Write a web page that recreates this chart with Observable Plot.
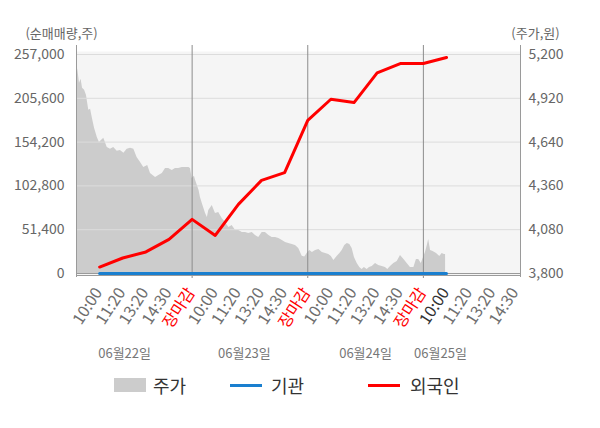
<!DOCTYPE html>
<html><head><meta charset="utf-8">
<script src="https://cdn.jsdelivr.net/npm/d3@7"></script>
<script src="https://cdn.jsdelivr.net/npm/@observablehq/plot@0.6"></script>
<style>
body{margin:0;background:#fff;font-family:"Noto Sans CJK KR","Noto Sans",sans-serif;}
#wrap{position:relative;width:600px;height:428px;overflow:hidden;}
#chart{position:absolute;left:0;top:0;}
.lt{position:absolute;top:373px;font-size:18px;color:#333;line-height:24px;}
.lb{position:absolute;}
</style></head><body><div id="wrap"><div id="chart"></div>
<div class="lb" style="left:114px;top:378px;width:32px;height:14px;background:#cccccc"></div>
<div class="lt" style="left:153px">주가</div>
<div class="lb" style="left:230px;top:384px;width:32px;height:3px;background:#1a7fcf"></div>
<div class="lt" style="left:271px">기관</div>
<div class="lb" style="left:368px;top:384px;width:32px;height:3px;background:#ff0000"></div>
<div class="lt" style="left:410px">외국인</div>
</div>
<script>
// x positions: 0 = day1 open, each label slot = 1 unit
const xTickK = [1,2,3,4,5,6,7,8,9,10,11,12,13,14,15,16,17,18,19];
const xTickLabels = ["10:00","11:20","13:20","14:30","장마감","10:00","11:20","13:20","14:30","장마감","10:00","11:20","13:20","14:30","장마감","10:00","11:20","13:20","14:30"];
const dayBreaks = [5,10,15];
const dateLabels = ["06월22일","06월23일","06월24일","06월25일"];
const dateK = [2.08,7.26,12.5,15.74];

// left axis (net volume, shares)
const volTicks = [0,51400,102800,154200,205600,257000];
// right axis (price, won)
const priceTicks = [3800,4080,4360,4640,4920,5200];

// 외국인 cumulative net volume at slots 1..16
const flowK = [1,2,3,4,5,6,7,8,9,10,11,12,13,14,15,16];
const foreign = [7600,18200,25300,40000,63500,44700,81100,109300,118300,179800,204500,200600,235400,246400,246400,253500];
const inst = [0,0,0,0,0,0,0,0,0,0,0,0,0,0,0,0];

// 주가 intraday
const priceK = [0,0.06,0.13,0.2,0.26,0.35,0.43,0.53,0.61,0.68,0.78,0.9,0.99,1.18,1.33,1.47,1.61,1.76,1.9,2.05,2.19,2.34,2.48,2.62,2.77,2.91,3.08,3.2,3.42,3.56,3.71,3.85,3.99,4.14,4.28,4.42,4.57,4.71,4.86,4.93,
5.0,5.1,5.15,5.3,5.36,5.44,5.58,5.66,5.72,5.87,6.01,6.15,6.3,6.44,6.59,6.73,6.88,7.02,7.17,7.31,7.45,7.6,7.74,7.88,8.03,8.17,8.32,8.46,8.61,8.75,8.9,9.04,9.18,9.33,9.47,9.61,9.76,9.87,
9.98,10.09,10.2,10.34,10.48,10.63,10.77,10.91,11.02,11.13,11.27,11.39,11.49,11.6,11.71,11.82,11.92,12.02,12.14,12.25,12.35,12.45,12.57,12.67,12.79,12.93,13.07,13.22,13.36,13.46,13.58,13.72,13.87,14.01,14.16,14.3,14.44,14.59,14.7,14.8,14.91,
14.99,15.09,15.17,15.23,15.31,15.42,15.57,15.71,15.81,15.91,15.96];
const price = [5131,5099,5016,5042,4984,4971,4939,4843,4850,4798,4728,4670,4638,4664,4606,4594,4606,4581,4587,4568,4594,4600,4594,4542,4510,4478,4491,4440,4414,4427,4440,4472,4472,4459,4472,4472,4478,4478,4478,4472,
4408,4421,4395,4331,4286,4248,4184,4158,4203,4235,4184,4190,4152,4126,4094,4107,4075,4075,4062,4062,4056,4062,4043,4030,4062,4062,4043,4030,4030,4024,4011,3998,3992,3986,3979,3960,3910,3905,
3930,3947,3934,3947,3954,3934,3928,3922,3909,3883,3909,3928,3947,3979,3992,3986,3960,3902,3864,3838,3826,3838,3826,3838,3845,3864,3851,3845,3838,3826,3845,3864,3877,3915,3890,3864,3838,3838,3890,3890,3864,
3896,3934,3979,4018,3947,3941,3928,3909,3928,3922,3922];

const pMin = 3800, pMax = 5200, vMax = 257000;
const toVol = p => (p - pMin) / (pMax - pMin) * vMax;
const priceData = priceK.map((k, i) => ({k, v: toVol(price[i])}));
const flowData = flowK.map((k, i) => ({k, f: foreign[i], s: inst[i]}));
const xt = xTickK.map((k, i) => ({k, t: xTickLabels[i],
  c: xTickLabels[i] === "장마감" ? "#ff0000" : (i === 15 ? "#333333" : "#6e6e6e")}));
const dl = dateK.map((k, i) => ({k, t: dateLabels[i]}));
const fmt = d3.format(",");
const font = '"Noto Sans CJK KR","Noto Sans",sans-serif';

const chart = Plot.plot({
  width: 600, height: 370,
  marginLeft: 76, marginRight: 80, marginTop: 51, marginBottom: 95,
  style: {fontFamily: font, background: "transparent", overflow: "visible"},
  x: {domain: [0, 19.2], axis: null},
  y: {domain: [0, vMax], insetTop: 3, insetBottom: 2, axis: null},
  marks: [
    Plot.frame({fill: "#f5f5f5", stroke: null}),
    Plot.areaY(priceData, {x: "k", y: "v", fill: "#cccccc"}),
    Plot.gridY(volTicks, {stroke: "#dcdcdc", strokeOpacity: 1}),
    Plot.ruleX(dayBreaks, {stroke: "#8c8c8c", insetTop: -6, insetBottom: -3}),
    Plot.ruleX([0, 19.2], {stroke: "#9a9a9a", insetTop: -6, insetBottom: -2}),
    Plot.ruleY([0], {stroke: "#9a9a9a"}),
    Plot.ruleY([0], {stroke: "#9a9a9a", dy: 2}),
    Plot.line(flowData, {x: "k", y: "s", stroke: "#1a7fcf", strokeWidth: 3}),
    Plot.line(flowData, {x: "k", y: "f", stroke: "#ff0000", strokeWidth: 3}),
    Plot.axisY(volTicks, {anchor: "left", tickSize: 0, tickPadding: 12, fontSize: 14, fill: "#666", tickFormat: fmt, label: null}),
    Plot.axisY(volTicks, {anchor: "right", tickSize: 0, tickPadding: 8, fontSize: 14, fill: "#666",
      tickFormat: d => fmt(Math.round(pMin + d / vMax * (pMax - pMin))), label: null}),
    Plot.text(xt, {x: "k", frameAnchor: "bottom", text: "t", fill: "c", rotate: -57, textAnchor: "end", lineAnchor: "middle", dy: 14, dx: -1, fontSize: 16}),
    Plot.text(dl, {x: "k", frameAnchor: "bottom", text: "t", fill: "#777", dy: 78, fontSize: 13, lineAnchor: "middle"}),
    Plot.text(["(순매매량,주)"], {frameAnchor: "top-left", text: d => d, dx: -15, dy: -18, fill: "#666", fontSize: 13, textAnchor: "middle", lineAnchor: "middle"}),
    Plot.text(["(주가,원)"], {frameAnchor: "top-right", text: d => d, dx: 15, dy: -18, fill: "#666", fontSize: 13, textAnchor: "middle", lineAnchor: "middle"})
  ]
});
document.getElementById("chart").appendChild(chart);
</script></body></html>
